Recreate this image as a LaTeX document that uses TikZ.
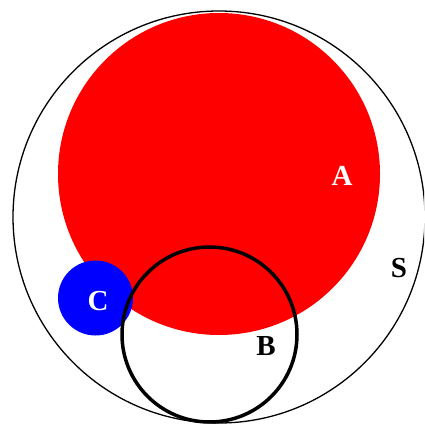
\documentclass[tikz,border=0pt]{standalone}
\usepackage{fontspec}
\setmainfont{Liberation Serif}
\usetikzlibrary{positioning}

\begin{document}
\begin{tikzpicture}[
        x=1pt, y=-1pt,
        setlabel/.style={font=\fontsize{29}{29}\selectfont\bfseries, inner sep=0pt},
        setcircle/.style={circle, inner sep=0pt}
    ]
        \useasboundingbox (0,0) rectangle (424,425);
        \begin{scope}
        \clip (0,0) rectangle (424,425);
        % universe S
        \node[setcircle, draw=black, line width=1.3pt, minimum size=412pt] (S) at (219,217) {};
        % A, C, B
        \node[setcircle, fill=red, minimum size=322pt] (A) at (219,174) {};
        \node[setcircle, fill=blue, minimum size=75pt] (C) at (95.5,298) {};
        \node[setcircle, draw=black, line width=3.5pt, minimum size=175pt] (B) at (209.5,334.5) {};
        \end{scope}

        \node[setlabel, text=white] (labA) at (342,176) {A};
        \node[setlabel, text=black] (labS) at (399,268) {S};
        \node[setlabel, text=white] (labC) at (98,301) {C};
        \node[setlabel, text=black] (labB) at (266,346) {B};
    \end{tikzpicture}
\end{document}
